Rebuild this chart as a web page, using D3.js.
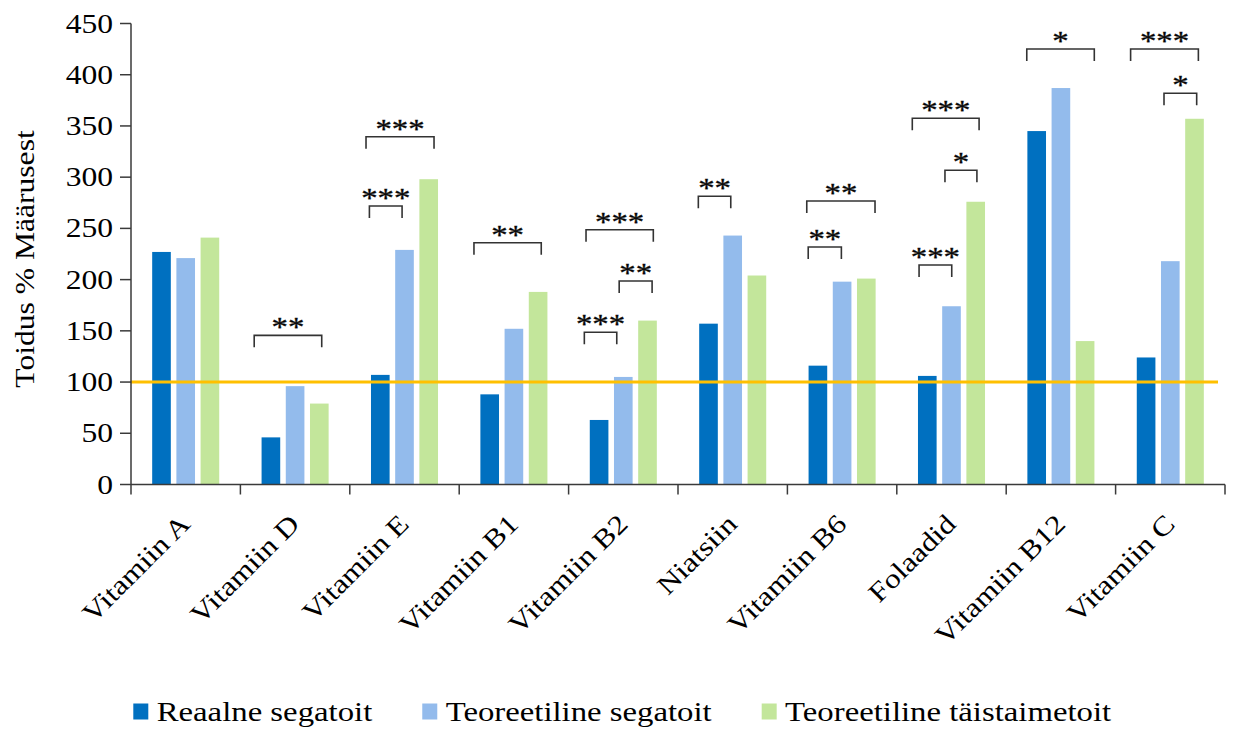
<!DOCTYPE html>
<html>
<head>
<meta charset="utf-8">
<script src="https://cdn.jsdelivr.net/npm/d3@7"></script>
<style>
  html, body { margin: 0; padding: 0; background: #fff; }
  svg { display: block; }
  text { font-family: "Liberation Serif", "Times New Roman", serif; fill: #000; }
</style>
</head>
<body>
<svg id="chart" width="1235" height="729"></svg>
<script>
// ---- data ----
const categories = ["Vitamiin A", "Vitamiin D", "Vitamiin E", "Vitamiin B1", "Vitamiin B2",
                    "Niatsiin", "Vitamiin B6", "Folaadid", "Vitamiin B12", "Vitamiin C"];
const seriesNames = ["Reaalne segatoit", "Teoreetiline segatoit", "Teoreetiline täistaimetoit"];
const reaalneSegatoit      = [227, 46, 107, 88, 63, 157, 116, 106, 345, 124];
const teoreetilineSegatoit = [221, 96, 229, 152, 105, 243, 198, 174, 387, 218];
const teoreetilineTaistaimetoit = [241, 79, 298, 188, 160, 204, 201, 276, 140, 357];
const yTicks = [0, 50, 100, 150, 200, 250, 300, 350, 400, 450];
const yLabel = "Toidus % Määrusest";
const referenceValue = 100;
// significance brackets: category, start/end (series position, 0..2), level (y value), label
const bracketCats   = ["Vitamiin D", "Vitamiin E", "Vitamiin E", "Vitamiin B1", "Vitamiin B2", "Vitamiin B2", "Vitamiin B2",
                       "Niatsiin", "Vitamiin B6", "Vitamiin B6", "Folaadid", "Folaadid", "Folaadid",
                       "Vitamiin B12", "Vitamiin C", "Vitamiin C"];
const bracketFrom   = [-0.69, -0.59, -0.45, -0.65, -0.54, 0.83, -0.61, -0.42, -0.46, -0.40, -0.62, 0.73, -0.34, -0.41, -0.64, 0.74];
const bracketTo     = [2.10, 2.22, 0.90, 2.13, 2.24, 2.19, 0.73, 0.92, 2.36, 0.97, 2.14, 2.05, 1.01, 2.38, 2.16, 2.09];
const bracketLevel  = [145.6, 339.5, 271.9, 236, 248.7, 198.7, 148.6, 281.3, 276.7, 231.8, 357.5, 306.7, 214.3, 425.1, 425.1, 381.9];
const bracketLabel  = ["**", "***", "***", "**", "***", "**", "***", "**", "**", "**", "***", "*", "***", "*", "***", "*"];

// ---- layout ----
const W = 1235, H = 729;
const margin = { left: 131, right: 10, top: 23.5, bottom: 244.5 };
const colors = ["#0070C0", "#93BBEC", "#C3E69B"];
const SX = 1.17; // horizontal glyph stretch seen in the reference
const axisColor = "#3a3a3a";

const svg = d3.select("#chart");
const seriesData = [reaalneSegatoit, teoreetilineSegatoit, teoreetilineTaistaimetoit];

const x = d3.scaleBand().domain(categories).range([margin.left, W - margin.right]).paddingInner(0).paddingOuter(0);
const x1 = d3.scaleBand().domain([0, 1, 2]).range([0, x.bandwidth()]).paddingInner(0.23).paddingOuter(0.875);
const y = d3.scaleLinear().domain([0, 450]).range([H - margin.bottom, margin.top]);

// bars
const g = svg.append("g");
seriesData.forEach((vals, si) => {
  g.selectAll(null).data(vals).enter().append("rect")
    .attr("x", (d, i) => x(categories[i]) + x1(si))
    .attr("y", d => y(d))
    .attr("width", x1.bandwidth())
    .attr("height", d => y(0) - y(d))
    .attr("fill", colors[si]);
});

// reference line
svg.append("line")
  .attr("x1", x.range()[0]).attr("x2", x.range()[1] - 7)
  .attr("y1", y(referenceValue)).attr("y2", y(referenceValue))
  .attr("stroke", "#FFC000").attr("stroke-width", 3);

// y axis
const yAxisG = svg.append("g");
yAxisG.append("line").attr("x1", margin.left).attr("x2", margin.left)
  .attr("y1", y(0)).attr("y2", y(450)).attr("stroke", axisColor).attr("stroke-width", 1.5);
yTicks.forEach(t => {
  yAxisG.append("line").attr("x1", margin.left - 11).attr("x2", margin.left)
    .attr("y1", y(t)).attr("y2", y(t)).attr("stroke", axisColor).attr("stroke-width", 1.5);
  yAxisG.append("text")
    .attr("transform", `translate(${margin.left - 18},${y(t) + 9}) scale(${SX},1)`)
    .attr("text-anchor", "end").attr("font-size", 27).text(t);
});

// y label
svg.append("text")
  .attr("transform", `translate(34,${(y(0) + y(450)) / 2 + 5}) rotate(-90) scale(${SX},1)`)
  .attr("text-anchor", "middle").attr("font-size", 27).text(yLabel);

// x axis
const xAxisG = svg.append("g");
xAxisG.append("line").attr("x1", x.range()[0]).attr("x2", x.range()[1])
  .attr("y1", y(0)).attr("y2", y(0)).attr("stroke", axisColor).attr("stroke-width", 1.5);
const boundaries = categories.map(c => x(c)).concat([x.range()[1]]);
boundaries.forEach(bx => {
  xAxisG.append("line").attr("x1", bx).attr("x2", bx).attr("y1", y(0)).attr("y2", y(0) + 10)
    .attr("stroke", axisColor).attr("stroke-width", 1.5);
});
categories.forEach(c => {
  const cx = x(c) + x.bandwidth() / 2;
  xAxisG.append("text")
    .attr("transform", `translate(${cx + 6},${y(0) + 41}) rotate(-45) scale(${SX},1)`)
    .attr("text-anchor", "end").attr("font-size", 27).text(c);
});

// significance brackets
const bg = svg.append("g");
const seriesPos = (cat, p) => x(cat) + x1(0) + x1.bandwidth() / 2 + p * x1.step();
bracketCats.forEach((cat, i) => {
  const xa = seriesPos(cat, bracketFrom[i]);
  const xb = seriesPos(cat, bracketTo[i]);
  const yy = y(bracketLevel[i]);
  bg.append("path")
    .attr("d", `M${xa},${yy + 12}V${yy}H${xb}V${yy + 12}`)
    .attr("fill", "none").attr("stroke", "#333").attr("stroke-width", 1.6);
  bg.append("text")
    .attr("transform", `translate(${(xa + xb) / 2},${yy + 1}) scale(${SX},1)`)
    .attr("text-anchor", "middle").attr("font-size", 28).attr("fill", "#1a1a1a")
    .attr("stroke", "#1a1a1a").attr("stroke-width", 0.4)
    .text(bracketLabel[i]);
});

// legend
const lg = svg.append("g");
let lx = 133.3;
seriesNames.forEach((name, i) => {
  lg.append("rect").attr("x", lx).attr("y", 703.5).attr("width", 15).attr("height", 16).attr("fill", colors[i]);
  const t = lg.append("text")
    .attr("transform", `translate(${lx + 23.4},720.5) scale(${SX},1)`)
    .attr("font-size", 28).text(name);
  const len = t.node().getComputedTextLength() * SX;
  lx = lx + 23.4 + len + 50;
});
</script>
</body>
</html>
